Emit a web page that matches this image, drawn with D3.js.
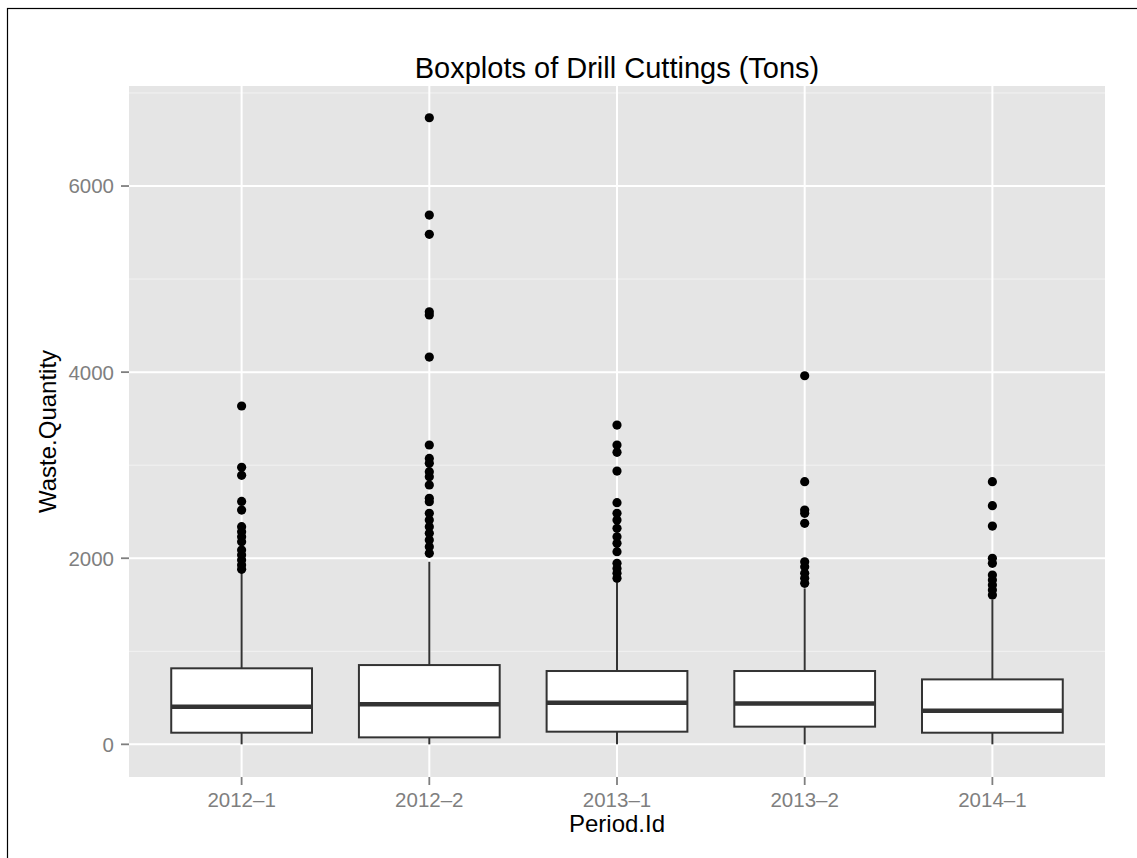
<!DOCTYPE html>
<html>
<head>
<meta charset="utf-8">
<script src="https://cdn.jsdelivr.net/npm/d3@7"></script>
<style>
  body { margin: 0; background: #fff; overflow: hidden; }
  svg { display: block; }
  text { font-family: "Liberation Sans", Arial, Helvetica, sans-serif; }
</style>
</head>
<body>
<svg id="chart" width="1137" height="858"></svg>
<script>
// box statistics (tons)
const periods = ["2012\u20131", "2012\u20132", "2013\u20131", "2013\u20132", "2014\u20131"];
const lowerWhisker = [0, 0, 0, 0, 0];
const q1 = [125, 75, 136, 190, 125];
const medians = [404, 430, 447, 440, 361];
const q3 = [817, 852, 788, 788, 698];
const upperWhisker = [1850, 1962, 1740, 1676, 1558];
const outliers = [
    [3636, 2977, 2891, 2611, 2518, 2339, 2285, 2231, 2178, 2088, 2034, 1981, 1927, 1881],
    [6734, 5688, 5481, 4649, 4614, 4162, 3217, 3073, 3020, 2930, 2876, 2787, 2644, 2607,
     2483, 2411, 2339, 2268, 2196, 2124, 2053],
    [3431, 3217, 3138, 2937, 2597, 2483, 2411, 2321, 2231, 2160, 2070, 1945, 1891, 1838, 1784],
    [3961, 2823, 2518, 2483, 2375, 1962, 1909, 1838, 1784, 1730],
    [2823, 2565, 2346, 1999, 1945, 1820, 1766, 1712, 1658, 1605]
];
const yTicks = [0, 2000, 4000, 6000];
const yMinor = [1000, 3000, 5000, 7000];

const svg = d3.select("#chart");

// outer frame (only left/top edges visible)
svg.append("rect")
    .attr("x", 7.5).attr("y", 8.5)
    .attr("width", 1300).attr("height", 1000)
    .attr("fill", "none").attr("stroke", "#000").attr("stroke-width", 1.2);

const panel = { left: 129, top: 86, right: 1105, bottom: 777 };
const pw = panel.right - panel.left;
const ph = panel.bottom - panel.top;

const g = svg.append("g").attr("transform", "translate(" + panel.left + "," + panel.top + ")");

let x = d3.scalePoint().domain(periods).range([0, pw]).padding(0.6);
let y = d3.scaleLinear().domain([-351, 7075]).range([ph, 0]);
const boxW = x.step() * 0.75;

// panel background + grid
g.append("rect").attr("width", pw).attr("height", ph).attr("fill", "#E5E5E5");

g.selectAll(".minor").data(yMinor).enter().append("line")
    .attr("x1", 0).attr("x2", pw)
    .attr("y1", d => y(d)).attr("y2", d => y(d))
    .attr("stroke", "#F2F2F2").attr("stroke-width", 1);

g.selectAll(".hgrid").data(yTicks).enter().append("line")
    .attr("x1", 0).attr("x2", pw)
    .attr("y1", d => y(d)).attr("y2", d => y(d))
    .attr("stroke", "#fff").attr("stroke-width", 2);

g.selectAll(".vgrid").data(periods).enter().append("line")
    .attr("x1", d => x(d)).attr("x2", d => x(d))
    .attr("y1", 0).attr("y2", ph)
    .attr("stroke", "#fff").attr("stroke-width", 2);

// boxes
const boxes = periods.map((p, i) => ({
    period: p, lo: lowerWhisker[i], q1: q1[i], med: medians[i], q3: q3[i],
    hi: upperWhisker[i], out: outliers[i]
}));

let bg = g.selectAll(".box").data(boxes).enter().append("g").attr("class", "box");

bg.append("line")
    .attr("x1", d => x(d.period)).attr("x2", d => x(d.period))
    .attr("y1", d => y(d.q3)).attr("y2", d => y(d.hi))
    .attr("stroke", "#333").attr("stroke-width", 2);
bg.append("line")
    .attr("x1", d => x(d.period)).attr("x2", d => x(d.period))
    .attr("y1", d => y(d.q1)).attr("y2", d => y(d.lo))
    .attr("stroke", "#333").attr("stroke-width", 2);

bg.append("rect")
    .attr("x", d => x(d.period) - boxW / 2)
    .attr("y", d => y(d.q3))
    .attr("width", boxW)
    .attr("height", d => y(d.q1) - y(d.q3))
    .attr("fill", "#fff").attr("stroke", "#333").attr("stroke-width", 2);

bg.append("line")
    .attr("x1", d => x(d.period) - boxW / 2).attr("x2", d => x(d.period) + boxW / 2)
    .attr("y1", d => y(d.med)).attr("y2", d => y(d.med))
    .attr("stroke", "#333").attr("stroke-width", 4.5);

bg.selectAll(".outlier").data(d => d.out.map(v => ({ period: d.period, v: v })))
    .enter().append("circle")
    .attr("cx", d => x(d.period))
    .attr("cy", d => y(d.v))
    .attr("r", 4.6)
    .attr("fill", "#000");

// axes
const tickColor = "#7F7F7F";
let yAxis = svg.append("g").attr("transform", "translate(" + panel.left + "," + panel.top + ")");
yAxis.selectAll("line").data(yTicks).enter().append("line")
    .attr("x1", -8).attr("x2", 0)
    .attr("y1", d => y(d)).attr("y2", d => y(d))
    .attr("stroke", tickColor).attr("stroke-width", 1.8);
yAxis.selectAll("text").data(yTicks).enter().append("text")
    .attr("x", -15).attr("y", d => y(d))
    .attr("dy", "0.36em")
    .attr("text-anchor", "end")
    .attr("fill", tickColor)
    .style("font-size", "20.5px")
    .text(d => d);

let xAxis = svg.append("g").attr("transform", "translate(" + panel.left + "," + panel.bottom + ")");
xAxis.selectAll("line").data(periods).enter().append("line")
    .attr("x1", d => x(d)).attr("x2", d => x(d))
    .attr("y1", 0).attr("y2", 8)
    .attr("stroke", tickColor).attr("stroke-width", 1.8);
xAxis.selectAll("text").data(periods).enter().append("text")
    .attr("x", d => x(d)).attr("y", 30)
    .attr("text-anchor", "middle")
    .attr("fill", tickColor)
    .style("font-size", "20.5px")
    .text(d => d);

// titles
svg.append("text")
    .attr("x", panel.left + pw / 2).attr("y", 78)
    .attr("text-anchor", "middle")
    .style("font-size", "29px")
    .text("Boxplots of Drill Cuttings (Tons)");

svg.append("text")
    .attr("x", panel.left + pw / 2).attr("y", 832)
    .attr("text-anchor", "middle")
    .style("font-size", "24px")
    .text("Period.Id");

svg.append("text")
    .attr("transform", "translate(56," + (panel.top + ph / 2) + ") rotate(-90)")
    .attr("text-anchor", "middle")
    .style("font-size", "24px")
    .text("Waste.Quantity");
</script>
</body>
</html>
